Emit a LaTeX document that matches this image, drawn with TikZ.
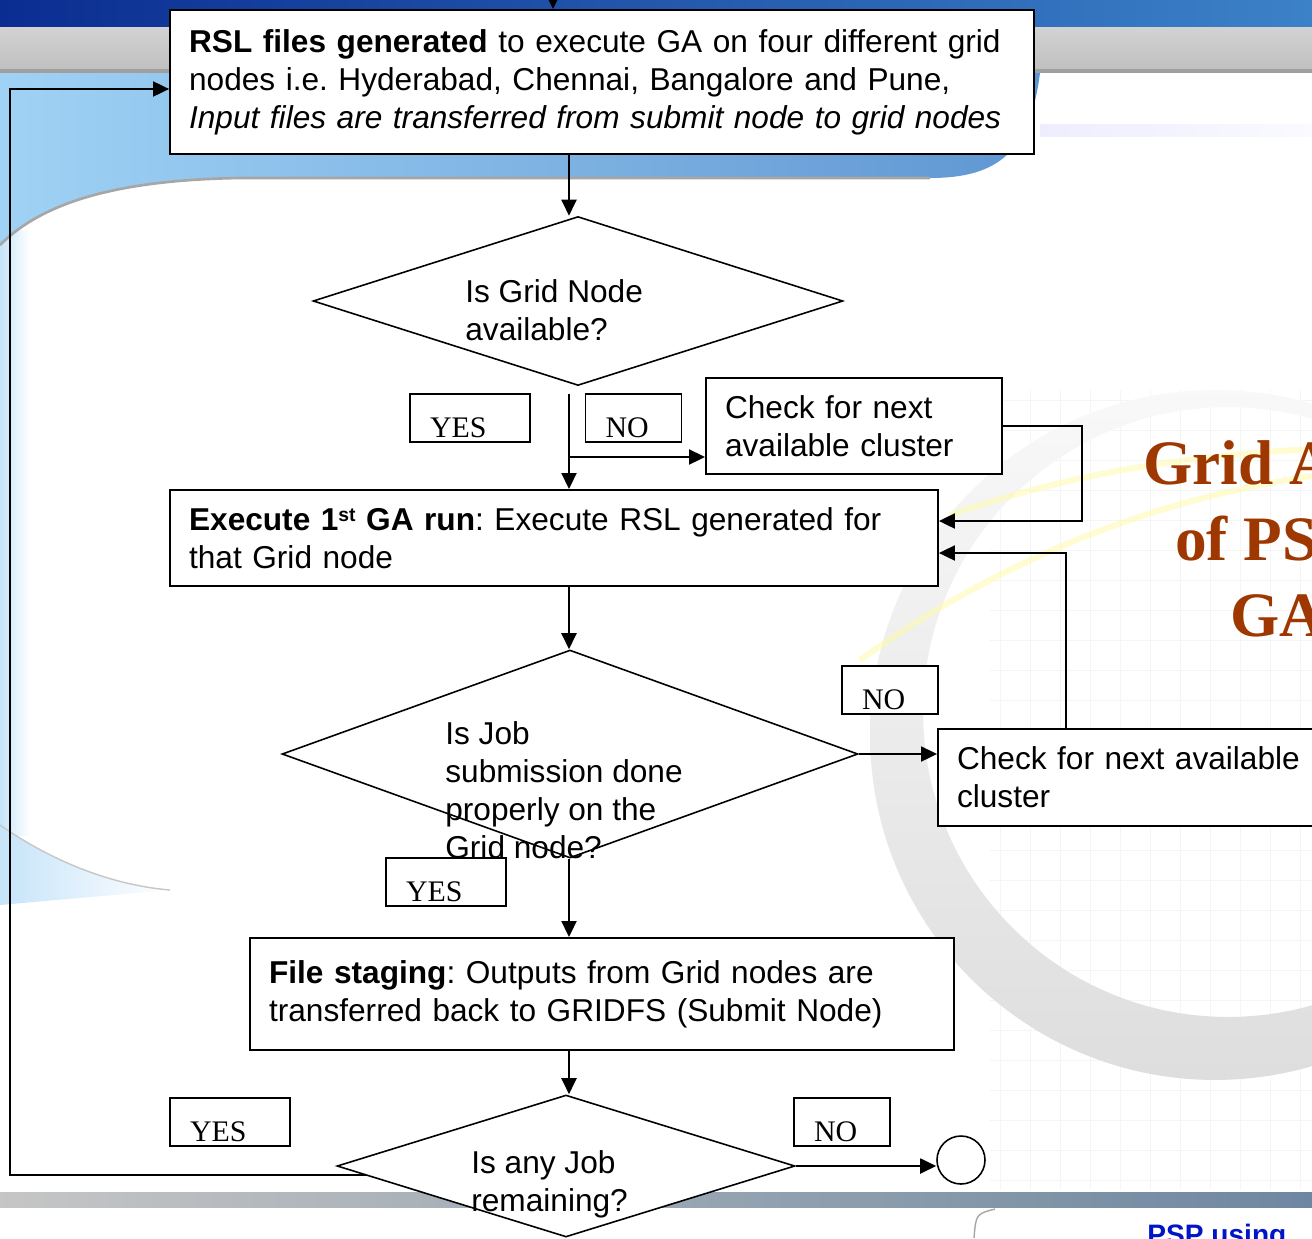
\documentclass[tikz,border=0pt]{standalone}
\usepackage{fontspec}
\setmainfont{Liberation Sans}
\newfontfamily\serifface{Liberation Serif}
\usepackage{tikz}
\usetikzlibrary{arrows.meta, shapes.geometric, positioning, calc}
\definecolor{bandblue}{RGB}{10,45,145}
\definecolor{bandlight}{RGB}{60,130,200}
\definecolor{skyleft}{RGB}{160,210,245}
\definecolor{skyright}{RGB}{95,150,210}
\definecolor{titlebrown}{RGB}{158,56,0}
\definecolor{footblue}{RGB}{0,20,200}
\definecolor{barblue}{RGB}{110,135,160}
\frenchspacing

\begin{document}
\begin{tikzpicture}[
  x=0.02cm, y=-0.02cm,
  box/.style={draw, line width=1.1pt, fill=white, align=left, inner xsep=0.38cm,
              font=\fontsize{18}{21.6}\selectfont},
  dec/.style={draw, diamond, line width=0.9pt, fill=white, inner sep=0pt},
  qtext/.style={align=left, inner sep=0pt, font=\fontsize{18}{21.6}\selectfont},
  tag/.style={draw, line width=0.9pt, fill=white, align=left,
              inner xsep=0.4cm, inner ysep=0pt, minimum height=0.96cm,
              text height=0.81cm, text depth=0.05cm,
              font=\serifface\fontsize{17}{20}\selectfont},
  arr/.style={-{Triangle[length=0.32cm, width=0.3cm]}, line width=1.1pt},
  gridline/.style={gray!8, line width=0.5pt},
  streak/.style={yellow!35, line width=0.12cm, opacity=0.5},
  slidetitle/.style={font=\serifface\bfseries\fontsize{36}{40}\selectfont,
                     text=titlebrown, inner sep=0pt, anchor=base west},
]
\useasboundingbox (0,0) rectangle (1312,1238);

% Slide background
\begin{scope}
  \clip (0,0) rectangle (1312,1238);
  \fill[white] (0,0) rectangle (1312,1238);
  \shade[left color=skyleft!60, right color=white] (0,230) rectangle (30,835);
  \shade[left color=skyleft!60, right color=white] (0,825)
    .. controls (50,860) and (110,885) .. (170,890) -- (0,905) -- cycle;
  \draw[gray!45, line width=0.8pt] (0,825) .. controls (50,860) and (110,885) .. (170,890);
  \foreach \gx in {1000,1030,...,1300} \draw[gridline] (\gx,390) -- (\gx,1190);
  \foreach \gy in {400,430,...,1180} \draw[gridline] (990,\gy) -- (1312,\gy);
  \shade[top color=gray!5, bottom color=gray!26, even odd rule]
    (1215,735) circle[radius=6.9cm] (1228,712) circle[radius=6.1cm];
  \draw[streak] (860,660) .. controls (1000,560) and (1150,500) .. (1312,476);
  \draw[streak] (950,515) .. controls (1080,470) and (1200,455) .. (1312,449);
  \shade[left color=bandblue, right color=bandlight] (0,0) rectangle (1312,27);
  \shade[top color=gray!35, bottom color=gray!50] (0,27) rectangle (1312,70);
  \fill[gray!75] (0,69) rectangle (1312,73);
  \shade[left color=skyleft, right color=skyright] (0,73) -- (1040,73)
    .. controls (1030,150) and (1000,178) .. (930,178) -- (240,178)
    .. controls (110,180) and (40,205) .. (0,245) -- cycle;
  \draw[gray!70, line width=1.5pt] (930,178) -- (240,178) .. controls (110,180) and (40,205) .. (0,245);
  \shade[left color=blue!7, right color=blue!2] (1040,124) rectangle (1312,136);
  \shade[left color=gray!45, right color=barblue] (0,1192) rectangle (1312,1207);
  \draw[gray!70, line width=0.8pt] (995,1209) .. controls (976,1214) .. (974,1238);
  \node[slidetitle] (ttl1) at (1143,484) {Grid A};
  \node[slidetitle] (ttl2) at (1175,560) {of PS};
  \node[slidetitle] (ttl3) at (1230,636) {GA};
  \node[anchor=north west, inner sep=0pt, text=footblue,
        font=\bfseries\fontsize{16}{18}\selectfont] (foot) at (1147,1224) {PSP using};
\end{scope}

% RSL generation
\coordinate (spine) at (569,0);
\coordinate (entry) at (553,-14);
\node[box, text width=16.52cm, minimum height=2.88cm] (rsl) at (602,82)
  {\textbf{RSL files generated} to execute GA on four different grid\\
   nodes i.e. Hyderabad, Chennai, Bangalore and Pune,\\
   \textit{Input files are transferred from submit node to grid nodes}};
\draw[arr] (entry) -- (entry |- rsl.north);

% Is Grid Node available?
\node[dec, minimum width=10.6cm, minimum height=3.38cm] (qnode) at (578,301) {};
\node[qtext, anchor=west] (qnode_t) at (465,310) {Is Grid Node\\available?};
\draw[arr] (rsl.south -| spine) -- (qnode.north -| spine);

% Yes / No under grid node check
\node[tag, text width=1.6cm] (yes1) at (470,418) {YES};
\node[tag, text width=1.12cm] (no1) at (633.5,418) {NO};
\node[box, text width=5.16cm, minimum height=1.92cm] (chk1) at (854,426) {Check for next\\available cluster};

% Execute first GA run
\node[box, text width=14.6cm, minimum height=1.92cm] (exec) at (554,538)
  {\textbf{Execute 1\raisebox{5pt}{\fontsize{11}{11}\selectfont st} GA run}: Execute RSL generated for\\that Grid node};
\coordinate (fork1) at (569,457);
\coordinate (ret1) at (1082,521);
\draw[arr, shorten <=0.16cm] (qnode.south -| spine) -- (exec.north -| spine);
\draw[arr] (fork1) -- (fork1 -| chk1.west);
\draw[arr] (chk1.east) -| (ret1) -- (ret1 -| exec.east);

% Job submission check
\node[dec, minimum width=11.52cm, minimum height=4.16cm] (job) at (570,754) {};
\draw[arr] (exec.south -| spine) -- (job.north -| spine);
\node[tag, text width=1.12cm] (no2) at (890,690) {NO};
\node[box, text width=7.28cm, minimum height=1.94cm] (chk2) at (1139,777.5) {Check for next available\\cluster};
\coordinate (ret2) at (1066,553);
\draw[arr] (job.east) -- (job.east -| chk2.west);
\draw[arr] (chk2.north -| ret2) -- (ret2) -- (ret2 -| exec.east);
\node[tag, text width=1.6cm] (yes2) at (446,882) {YES};
\node[qtext, anchor=west] (job_t) at (445,790) {Is Job\\submission done\\properly on the\\Grid node?};

% File staging
\node[box, text width=13.32cm, minimum height=2.24cm] (stage) at (602,994)
  {\textbf{File staging}: Outputs from Grid nodes are\\transferred back to GRIDFS (Submit Node)};
\draw[arr] (job.south -| spine) -- (stage.north -| spine);

% Any job remaining?
\node[dec, minimum width=9.16cm, minimum height=2.84cm] (remain) at (566,1166) {};
\node[qtext, anchor=west] (remain_t) at (471,1184) {Is any Job\\remaining?};
\draw[arr] (stage.south -| spine) -- (remain.north -| spine);
\node[tag, text width=1.6cm] (yes3) at (230,1122) {YES};
\node[tag, text width=1.12cm] (no3) at (842,1122) {NO};
\node[draw, circle, line width=0.9pt, fill=white, minimum size=0.96cm, inner sep=0pt] (stop) at (961,1160) {};
\draw[arr] (remain.east) -- (remain.east -| stop.west);

% loop back while jobs remain
\coordinate (back) at (10,89);
\draw[arr] ($(remain.west)!0.13!(remain.south)$) -| (back) -- (back -| rsl.west);

\end{tikzpicture}
\end{document}
